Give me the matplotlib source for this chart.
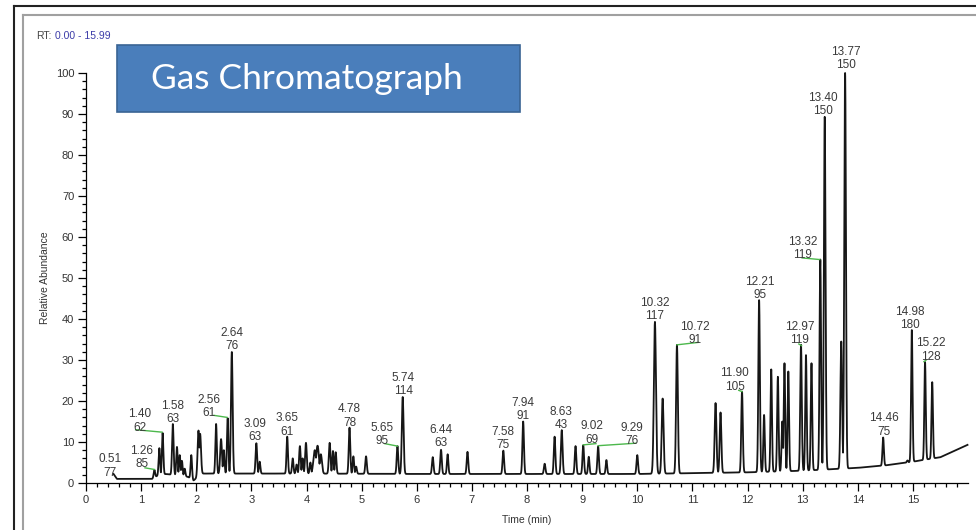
import numpy as np
import matplotlib
matplotlib.use("Agg")
import matplotlib.pyplot as plt
from matplotlib.patches import Rectangle
from matplotlib.lines import Line2D
from matplotlib.ticker import MultipleLocator

plt.rcParams['font.family'] = ['Liberation Sans', 'DejaVu Sans']

# 基线 (时间, 相对丰度)
base_t = [0.50, 0.56, 1.20, 1.30, 1.45, 1.85, 1.95, 2.10, 4.00, 6.00, 8.00, 10.00,
          11.00, 12.00, 13.00, 14.00, 14.50, 15.00, 15.50, 15.99]
base_v = [2.2, 1.0, 1.0, 1.8, 2.2, 1.5, 0.6, 2.3, 2.3, 2.2, 2.2, 2.2,
          2.4, 2.6, 3.0, 3.7, 4.3, 5.2, 6.3, 9.3]

# 峰: 保留时间, 峰高, 宽度(sigma)
peak_rt = [1.24, 1.33, 1.39, 1.575, 1.65, 1.70, 1.74, 1.79, 1.91, 2.04, 2.07,
           2.36, 2.45, 2.50, 2.57, 2.645, 3.09, 3.15, 3.65, 3.75, 3.82, 3.88,
           3.93, 3.99, 4.07, 4.15, 4.20, 4.26, 4.42, 4.48, 4.53, 4.78, 4.85,
           4.90, 5.08, 5.65, 5.745, 6.29, 6.44, 6.56, 6.92, 7.57, 7.93, 8.32,
           8.50, 8.63, 8.88, 9.02, 9.12, 9.29, 9.44, 10.00, 10.32, 10.46, 10.72,
           11.42, 11.51, 11.90, 12.21, 12.30, 12.43, 12.55, 12.63, 12.67, 12.74,
           12.97, 13.06, 13.16, 13.32, 13.40, 13.70, 13.77, 14.46, 14.90, 14.98,
           15.22, 15.35]
peak_h = [3.2, 8.5, 12.2, 14.4, 8.8, 6.8, 5.4, 3.5, 6.8, 12.8, 12.0,
          14.4, 10.7, 8.0, 15.8, 32.0, 9.7, 5.2, 11.3, 6.0, 4.5, 9.0,
          6.0, 9.8, 5.0, 8.0, 9.1, 7.0, 9.8, 7.8, 7.5, 13.5, 6.5,
          4.0, 6.5, 9.0, 21.0, 6.3, 8.1, 7.0, 7.6, 7.9, 15.0, 4.7,
          11.3, 12.9, 9.0, 9.2, 6.4, 8.9, 5.6, 6.8, 39.3, 20.6, 33.7,
          19.5, 17.2, 22.3, 44.6, 16.6, 27.7, 25.9, 15.0, 29.2, 27.2,
          33.7, 31.2, 29.2, 54.5, 89.3, 34.5, 100.0, 11.1, 5.5, 37.3,
          29.5, 24.6]
peak_w = [0.013, 0.013, 0.013, 0.014, 0.013, 0.013, 0.013, 0.013, 0.013, 0.016, 0.016,
          0.013, 0.016, 0.013, 0.013, 0.015, 0.014, 0.013, 0.013, 0.013, 0.013, 0.014,
          0.013, 0.015, 0.013, 0.025, 0.025, 0.020, 0.015, 0.013, 0.013, 0.014, 0.013,
          0.013, 0.014, 0.014, 0.016, 0.014, 0.014, 0.013, 0.014, 0.014, 0.014, 0.014,
          0.014, 0.015, 0.014, 0.014, 0.013, 0.014, 0.013, 0.014, 0.019, 0.017, 0.016,
          0.016, 0.015, 0.014, 0.014, 0.013, 0.013, 0.013, 0.013, 0.013, 0.013,
          0.014, 0.013, 0.013, 0.014, 0.015, 0.015, 0.015, 0.013, 0.011, 0.013,
          0.013, 0.013]

# 峰标注 (保留时间 / m/z)
label_rt = ["0.51", "1.26", "1.40", "1.58", "2.56", "2.64", "3.09", "3.65", "4.78",
            "5.65", "5.74", "6.44", "7.58", "7.94", "8.63", "9.02", "9.29", "10.32",
            "10.72", "11.90", "12.21", "12.97", "13.32", "13.40", "13.77", "14.46",
            "14.98", "15.22"]
label_mz = ["77", "85", "62", "63", "61", "76", "63", "61", "78",
            "95", "114", "63", "75", "91", "43", "69", "76", "117",
            "91", "105", "95", "119", "119", "150", "150", "75",
            "180", "128"]
label_x = [0.43, 1.01, 0.98, 1.57, 2.23, 2.64, 3.07, 3.64, 4.78,
           5.37, 5.76, 6.44, 7.56, 7.93, 8.62, 9.18, 9.90, 10.32,
           11.04, 11.77, 12.22, 12.95, 13.00, 13.37, 13.79, 14.48,
           14.94, 15.33]
label_y = [1.8, 3.8, 12.8, 14.9, 16.3, 32.6, 10.4, 11.8, 14.0,
           9.4, 21.7, 9.0, 8.5, 15.5, 13.3, 9.8, 9.4, 39.9,
           34.1, 22.8, 45.1, 34.1, 54.8, 89.9, 101.2, 11.8,
           37.8, 30.1]

# 绿色引线
leaders = [((1.07, 3.7), (1.24, 3.3)),
           ((0.90, 13.0), (1.38, 12.4)),
           ((2.32, 16.5), (2.56, 16.0)),
           ((5.42, 9.6), (5.65, 9.0)),
           ((9.02, 9.3), (9.25, 9.6)),
           ((9.29, 9.1), (9.97, 9.7)),
           ((10.72, 33.7), (11.11, 34.3)),
           ((11.84, 22.6), (11.90, 22.3)),
           ((12.93, 33.9), (12.98, 33.5)),
           ((12.99, 54.9), (13.31, 54.5)),
           ((15.20, 29.6), (15.24, 30.0))]

fig = plt.figure(figsize=(9.76, 5.30), dpi=100)
ax = fig.add_axes([86 / 976, 47 / 530, 881.5 / 976, 410 / 530])

# 色谱曲线
t = np.arange(0.50, 15.99 + 1e-9, 0.002)
base = np.interp(t, base_t, base_v)
peaks = np.zeros_like(t)
for rt, h, w in zip(peak_rt, peak_h, peak_w):
    amp = h - np.interp(rt, base_t, base_v)
    peaks = np.maximum(peaks, amp * np.exp(-0.5 * ((t - rt) / w) ** 2))
ax.plot(t, base + peaks, color='#161616', lw=1.3, clip_on=False)

for (x0, y0), (x1, y1) in leaders:
    ax.plot([x0, x1], [y0, y1], color='#4cb84c', lw=1.0, clip_on=False)

for rt, mz, x, y in zip(label_rt, label_mz, label_x, label_y):
    ax.text(x, y, rt + "\n" + mz, ha='center', va='baseline', fontsize=8.5,
            color='#3a3a3a', linespacing=1.15, clip_on=False)

ax.set_xlim(0, 15.99)
ax.set_ylim(0, 100)
ax.spines['top'].set_visible(False)
ax.spines['right'].set_visible(False)
ax.spines['left'].set_linewidth(0.9)
ax.spines['bottom'].set_linewidth(0.9)
ax.xaxis.set_major_locator(MultipleLocator(1))
ax.xaxis.set_minor_locator(MultipleLocator(0.2))
ax.yaxis.set_major_locator(MultipleLocator(10))
ax.yaxis.set_minor_locator(MultipleLocator(2))
ax.tick_params(which='major', length=5.5, width=0.9, labelsize=8, labelcolor='#333333', pad=3)
ax.tick_params(which='minor', length=3.2, width=0.9)
ax.set_xlabel("Time (min)", fontsize=7.5, color='#333333', labelpad=7)
ax.set_ylabel("Relative Abundance", fontsize=7.5, color='#333333', labelpad=4)

# RT 范围
fig.text(36 / 976, 1 - 39 / 530, "RT:", fontsize=7.5, color='#444444', va='baseline')
fig.text(55 / 976, 1 - 39 / 530, "0.00 - 15.99", fontsize=7.5, color='#3c3ca8', va='baseline')

# 标题框
box = Rectangle((117 / 976, 1 - 112 / 530), 403 / 976, 67 / 530, transform=fig.transFigure,
                facecolor='#4a7ebb', edgecolor='#3a6494', lw=1.2)
fig.patches.append(box)
fig.text(307 / 976, 1 - 79 / 530, "Gas Chromatograph", fontsize=25.5, color='white',
         family=['Lato', 'DejaVu Sans'], ha='center', va='center')

# 外框
fig.add_artist(Line2D([13.5 / 976, 13.5 / 976], [0, 1 - 5.5 / 530], color='#222222', lw=1.5))
fig.add_artist(Line2D([13.5 / 976, 1], [1 - 5.5 / 530, 1 - 5.5 / 530], color='#222222', lw=1.5))
fig.add_artist(Line2D([22.5 / 976, 22.5 / 976], [0, 1 - 14.5 / 530], color='#a0a0a0', lw=1.5))
fig.add_artist(Line2D([22.5 / 976, 1], [1 - 14.5 / 530, 1 - 14.5 / 530], color='#a0a0a0', lw=1.5))

fig.savefig("out.png", dpi=100)
